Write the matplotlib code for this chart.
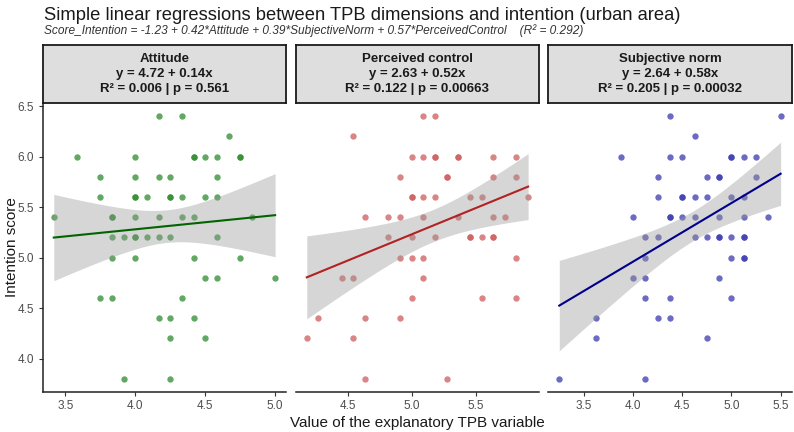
import numpy as np
import matplotlib
matplotlib.use("Agg")
import matplotlib.pyplot as plt

plt.rcParams['font.family'] = ['Liberation Sans', 'DejaVu Sans']

# --- data ---
# Attitude (x in twelfths)
att_x12 = [41, 43, 45, 45, 45, 46, 46, 46, 46, 46, 47, 47, 48, 48, 48, 48, 48, 48, 48, 48,
           49, 49, 50, 50, 50, 50, 50, 51, 51, 51, 51, 51, 51, 51, 52, 52, 52, 52,
           53, 53, 53, 53, 53, 54, 54, 54, 54, 55, 55, 55, 55, 55, 56, 57, 57, 57, 58, 60]
att_y = [5.4, 6.0, 5.8, 5.6, 4.6, 5.4, 5.4, 5.2, 5.0, 4.6, 5.2, 3.8, 6.0, 5.8, 5.6, 5.6, 5.4, 5.2, 5.2, 5.0,
         5.6, 5.2, 6.4, 5.8, 5.4, 5.2, 4.4, 5.8, 5.6, 5.6, 5.2, 4.4, 4.2, 3.8, 6.4, 5.6, 5.4, 4.6,
         6.0, 6.0, 5.4, 5.0, 4.4, 6.0, 5.6, 4.8, 4.2, 6.0, 5.8, 5.6, 5.2, 4.8, 6.2, 6.0, 6.0, 5.0, 5.4, 4.8]

# Perceived control (x in elevenths)
pc_x11 = [46, 47, 49, 50, 50, 50, 51, 51, 51, 53, 53, 54, 54, 54, 54,
          55, 55, 55, 55, 55, 55, 56, 56, 56, 56, 56, 56, 57, 57, 57, 57, 57,
          58, 58, 58, 59, 59, 59, 60, 60, 60, 61, 61, 61, 62, 62, 62, 62, 62,
          63, 64, 64, 64, 64, 65]
pc_y = [4.2, 4.4, 4.8, 6.2, 4.8, 4.2, 5.4, 4.4, 3.8, 5.4, 5.2, 5.8, 5.4, 5.0, 4.4,
        6.0, 5.6, 5.6, 5.2, 5.0, 4.6, 6.4, 6.0, 5.6, 5.4, 5.0, 4.8, 6.4, 6.0, 6.0, 5.6, 5.2,
        5.8, 5.8, 3.8, 6.0, 6.0, 5.4, 5.6, 5.2, 5.2, 5.6, 5.2, 4.6, 6.0, 5.8, 5.4, 5.2, 5.2,
        5.4, 6.0, 5.8, 5.0, 4.6, 5.6]

# Subjective norm (x in eighths)
sn_x8 = [26, 29, 29, 31, 32, 32, 33, 33, 33, 33, 33, 34, 34, 34, 34,
         35, 35, 35, 35, 35, 35, 36, 36, 36, 36, 37, 37, 37, 37, 38, 38, 38, 38,
         39, 39, 39, 39, 39, 39, 40, 40, 40, 40, 40, 40, 41, 41, 41, 41, 41, 41, 41,
         42, 42, 43, 44]
sn_y = [3.8, 4.4, 4.2, 6.0, 5.4, 4.8, 5.2, 5.0, 4.8, 4.6, 3.8, 5.8, 5.6, 5.2, 4.4,
        6.4, 6.0, 5.4, 5.4, 4.6, 4.4, 6.0, 5.6, 5.6, 5.4, 6.2, 5.6, 5.4, 5.2, 5.8, 5.6, 5.2, 4.2,
        5.8, 5.8, 5.4, 5.2, 5.2, 4.8, 6.0, 6.0, 5.6, 5.2, 5.0, 4.6, 6.0, 5.6, 5.4, 5.2, 5.2, 5.0, 5.0,
        6.0, 5.8, 5.4, 6.4]

att_x = np.array(att_x12) / 12
pc_x = np.array(pc_x11) / 11
sn_x = np.array(sn_x8) / 8

names = ["Attitude", "Perceived control", "Subjective norm"]
intercepts = [4.72, 2.63, 2.64]
slopes = [0.14, 0.52, 0.58]
r2 = ["0.006", "0.122", "0.205"]
pvals = ["0.561", "0.00663", "0.00032"]
xs = [att_x, pc_x, sn_x]
ys = [np.array(att_y), np.array(pc_y), np.array(sn_y)]
xticks = [[3.5, 4.0, 4.5, 5.0], [4.5, 5.0, 5.5], [3.5, 4.0, 4.5, 5.0, 5.5]]

point_cols = ["#2E8B2E", "#CD5C5C", "#3A3AB0"]
line_cols = ["#006400", "#B22222", "#00008B"]

W, H = 794, 432
fig = plt.figure(figsize=(W / 100, H / 100), dpi=100)

panel_w = 243.5
lefts = [42.7, 295.7, 548.2]
top_px, bot_px = 103, 392
strip_top = 45

for i in range(3):
    x, y = xs[i], ys[i]
    ax = fig.add_axes([lefts[i] / W, 1 - bot_px / H, panel_w / W, (bot_px - top_px) / H])
    ax.scatter(x, y, s=21, color=point_cols[i], alpha=0.75, linewidths=0, zorder=2)

    # lm line + 95% CI like geom_smooth
    n = len(x)
    xg = np.linspace(x.min(), x.max(), 100)
    yhat = intercepts[i] + slopes[i] * xg
    resid = y - (intercepts[i] + slopes[i] * x)
    s = np.sqrt(np.sum(resid ** 2) / (n - 2))
    sxx = np.sum((x - x.mean()) ** 2)
    se = s * np.sqrt(1 / n + (xg - x.mean()) ** 2 / sxx)
    ax.fill_between(xg, yhat - 2.0 * se, yhat + 2.0 * se, color="#999999", alpha=0.4,
                    linewidth=0, zorder=3)
    ax.plot(xg, yhat, color=line_cols[i], lw=1.5, zorder=4)

    pad = 0.05 * (x.max() - x.min())
    ax.set_xlim(x.min() - pad, x.max() + pad)
    ax.set_ylim(3.8 - 0.13, 6.4 + 0.13)
    ax.set_xticks(xticks[i])
    ax.set_xticklabels([f"{t:.1f}" for t in xticks[i]])
    ax.set_yticks([4.0, 4.5, 5.0, 5.5, 6.0, 6.5])
    ax.set_yticklabels(["4.0", "4.5", "5.0", "5.5", "6.0", "6.5"])
    for sp in ["top", "right"]:
        ax.spines[sp].set_visible(False)
    ax.spines["bottom"].set_linewidth(1.1)
    ax.spines["bottom"].set_color("#222222")
    if i == 0:
        ax.spines["left"].set_linewidth(1.1)
        ax.spines["left"].set_color("#222222")
    else:
        ax.spines["left"].set_visible(False)
        ax.tick_params(axis="y", left=False, labelleft=False)
    ax.tick_params(labelsize=8.5, labelcolor="#4D4D4D", color="#333333", length=3, width=0.8,
                   pad=3)

    # facet strip
    sax = fig.add_axes([lefts[i] / W, 1 - top_px / H, panel_w / W, (top_px - strip_top) / H])
    sax.set_facecolor("#DEDEDE")
    sax.set_xticks([])
    sax.set_yticks([])
    for sp in sax.spines.values():
        sp.set_linewidth(1.3)
        sp.set_color("#1A1A1A")
    label = f"{names[i]}\ny = {intercepts[i]:.2f} + {slopes[i]:.2f}x\nR² = {r2[i]} | p = {pvals[i]}"
    sax.text(0.5, 0.5, label, ha="center", va="center", fontsize=9.5, fontweight="bold",
             color="#1A1A1A", linespacing=1.35, transform=sax.transAxes)

fig.text(44 / W, 1 - 15 / H, "Simple linear regressions between TPB dimensions and intention (urban area)",
         ha="left", va="center", fontsize=13.2, color="#1A1A1A")
fig.text(44 / W, 1 - 31 / H,
         "Score_Intention = -1.23 + 0.42*Attitude + 0.39*SubjectiveNorm + 0.57*PerceivedControl    (R² = 0.292)",
         ha="left", va="center", fontsize=8.6, style="italic", color="#333333")
fig.text(417 / W, 1 - 423 / H, "Value of the explanatory TPB variable",
         ha="center", va="center", fontsize=11, color="#1A1A1A")
fig.text(12 / W, 1 - 247 / H, "Intention score", ha="center", va="center",
         rotation=90, fontsize=11, color="#1A1A1A")

fig.savefig("out.png", dpi=100)
